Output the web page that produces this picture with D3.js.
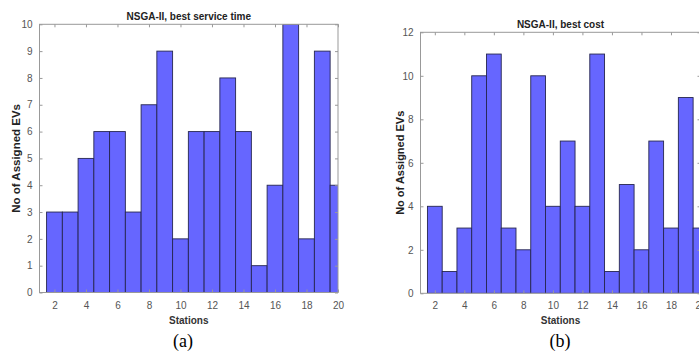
<!DOCTYPE html>
<html>
<head>
<meta charset="utf-8">
<script src="https://cdn.jsdelivr.net/npm/d3@7"></script>
<style>
  body { margin: 0; background: #fff; }
  svg { display: block; }
</style>
</head>
<body>
<svg width="699" height="351"></svg>
<script>
// data
const stations = [2, 3, 4, 5, 6, 7, 8, 9, 10, 11, 12, 13, 14, 15, 16, 17, 18, 19, 20];
const serviceTimeCounts = [3, 3, 5, 6, 6, 3, 7, 9, 2, 6, 6, 8, 6, 1, 4, 10, 2, 9, 4];
const costCounts = [4, 1, 3, 10, 11, 3, 2, 10, 4, 7, 4, 11, 1, 5, 2, 7, 3, 9, 3];
const xTicks = [2, 4, 6, 8, 10, 12, 14, 16, 18, 20];
const yTicksA = [0, 1, 2, 3, 4, 5, 6, 7, 8, 9, 10];
const yTicksB = [0, 2, 4, 6, 8, 10, 12];

var svg = d3.select('svg');

const panels = [
  {
    id: 'a', title: 'NSGA-II, best service time', counts: serviceTimeCounts,
    yTicks: yTicksA, yMax: 10,
    left: 39.5, right: 338, top: 24.3, bottom: 292.5,
    xMin: 1.05, ylabelX: 16, ylabelSize: 11.5, titleY: 19.5, caption: '(a)', captionX: 183
  },
  {
    id: 'b', title: 'NSGA-II, best cost', counts: costCounts,
    yTicks: yTicksB, yMax: 12,
    left: 420.5, right: 700.5, top: 32.3, bottom: 293.3,
    xMin: 1.03, ylabelX: 400, ylabelSize: 11, titleY: 27.8, caption: '(b)', captionX: 560
  }
];

function renderPanel(p) {
  const xScale = d3.scaleLinear().domain([p.xMin, 20]).range([p.left, p.right]);
  const yScale = d3.scaleLinear().domain([0, p.yMax]).range([p.bottom, p.top]);

  const g = svg.append('g');

  g.append('clipPath').attr('id', 'clip-' + p.id)
    .append('rect')
    .attr('x', p.left).attr('y', p.top)
    .attr('width', p.right - p.left).attr('height', p.bottom - p.top);

  // bars, one per station, edges at +-0.5
  g.append('g').attr('clip-path', `url(#clip-${p.id})`)
    .selectAll('rect').data(stations)
    .enter().append('rect')
    .attr('x', d => xScale(d - 0.5))
    .attr('width', d => xScale(d + 0.5) - xScale(d - 0.5))
    .attr('y', (d, i) => yScale(p.counts[i]))
    .attr('height', (d, i) => p.bottom - yScale(p.counts[i]))
    .style('fill', '#6666ff')
    .style('stroke', '#262650')
    .style('stroke-width', 0.9);

  // axes: bottom/left with labels, top/right ticks only (matlab box)
  const axisColor = '#999';
  const styleAxis = sel => {
    sel.select('.domain').remove();
    sel.selectAll('line').attr('stroke', axisColor);
    sel.selectAll('text').attr('fill', '#555')
      .style('font-family', 'Liberation Sans, Arial, sans-serif')
      .style('font-size', '10px');
  };

  g.append('g').attr('transform', `translate(0,${p.bottom})`)
    .call(d3.axisBottom(xScale).tickValues(xTicks).tickSizeInner(-3).tickSizeOuter(0).tickPadding(9))
    .call(styleAxis);
  g.append('g').attr('transform', `translate(${p.left},0)`)
    .call(d3.axisLeft(yScale).tickValues(p.yTicks).tickSizeInner(-3).tickSizeOuter(0).tickPadding(7))
    .call(styleAxis);
  g.append('g').attr('transform', `translate(0,${p.top})`)
    .call(d3.axisTop(xScale).tickValues(xTicks).tickSizeInner(-3).tickSizeOuter(0).tickFormat(''))
    .call(styleAxis);
  g.append('g').attr('transform', `translate(${p.right},0)`)
    .call(d3.axisRight(yScale).tickValues(p.yTicks).tickSizeInner(-3).tickSizeOuter(0).tickFormat(''))
    .call(styleAxis);

  g.append('rect')
    .attr('x', p.left).attr('y', p.top)
    .attr('width', p.right - p.left).attr('height', p.bottom - p.top)
    .style('fill', 'none').style('stroke', axisColor).style('stroke-width', 1);

  const cx = (p.left + p.right) / 2;
  g.append('text')
    .attr('x', cx).attr('y', p.titleY)
    .attr('text-anchor', 'middle')
    .style('font-family', 'Liberation Sans, Arial, sans-serif')
    .style('font-weight', 'bold').style('font-size', '10px').style('fill', '#222')
    .text(p.title);

  g.append('text')
    .attr('x', cx).attr('y', p.bottom + 31)
    .attr('text-anchor', 'middle')
    .style('font-family', 'Liberation Sans, Arial, sans-serif')
    .style('font-weight', 'bold').style('font-size', '10px').style('fill', '#333')
    .text('Stations');

  const cy = (p.top + p.bottom) / 2;
  g.append('text')
    .attr('transform', `translate(${p.ylabelX + 4},${cy}) rotate(-90)`)
    .attr('text-anchor', 'middle')
    .style('font-family', 'Liberation Sans, Arial, sans-serif')
    .style('font-weight', 'bold').style('font-size', p.ylabelSize + 'px').style('fill', '#222')
    .text('No of Assigned EVs');

  g.append('text')
    .attr('x', p.captionX).attr('y', 347)
    .attr('text-anchor', 'middle')
    .style('font-family', 'Liberation Serif, Times New Roman, serif')
    .style('font-size', '18px').style('fill', '#000')
    .text(p.caption);
}

panels.forEach(renderPanel);
</script>
</body>
</html>
